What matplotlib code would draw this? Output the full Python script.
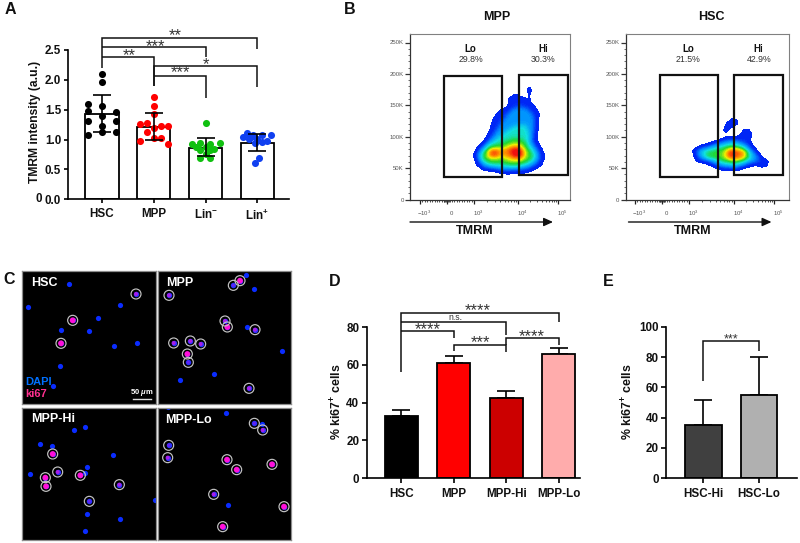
import numpy as np
import matplotlib
matplotlib.use("Agg")
import matplotlib.pyplot as plt
from matplotlib.path import Path
from matplotlib.colors import LinearSegmentedColormap, Normalize
from matplotlib.patches import Rectangle

plt.rcParams['font.family'] = ['Liberation Sans', 'DejaVu Sans']
plt.rcParams['mathtext.fontset'] = 'custom'
plt.rcParams['mathtext.rm'] = 'Liberation Sans'
plt.rcParams['mathtext.bf'] = 'Liberation Sans:bold'
plt.rcParams['mathtext.it'] = 'Liberation Sans:italic:bold'
plt.rcParams['mathtext.default'] = 'bf'

W, H = 800, 543
DPI = 100

# ---------- Panel A data ----------
a_cats = ['HSC', 'MPP', 'Lin$^{-}$', 'Lin$^{+}$']
a_means = [1.42, 1.21, 0.86, 0.95]
a_err_hi = [1.75, 1.45, 1.02, 1.10]
a_err_lo = [1.12, 0.99, 0.72, 0.81]
a_colors = ['#000000', '#ff0000', '#10c010', '#1040f0']
a_hsc = [2.10, 1.96, 1.60, 1.57, 1.48, 1.47, 1.31, 1.39, 1.31, 1.23, 1.07, 1.13, 1.12]
a_hsc_x = [0, 0, -.27, 0, -.27, .27, -.27, 0, .27, 0, -.27, 0, .27]
a_mpp = [1.71, 1.56, 1.42, 1.26, 1.28, 1.19, 1.23, 1.23, 1.12, 0.98, 1.02, 1.03, 0.93]
a_mpp_x = [0, 0, 0, -.27, -.14, 0, .14, .27, -.14, -.27, 0, .14, .27]
a_linm = [1.28, .92, .95, .95, .93, .88, .85, .87, .82, .83, .76, .69, .69]
a_linm_x = [0, -.27, -.1, .27, .09, -.18, .17, 0, -.1, .09, 0, -.1, .09]
a_linp = [1.11, 1.04, 1.08, 1.08, 1.07, 1.01, 1.01, .94, .96, .97, .69, .60, 1.04]
a_linp_x = [-.2, -.28, -.09, .09, .27, -.17, 0, -.04, .09, .19, .03, -.05, -.12]

# ---------- Panels D, E data ----------
d_cats = ['HSC', 'MPP', 'MPP-Hi', 'MPP-Lo']
d_vals = [32.7, 60.8, 42.7, 65.7]
d_err = [36.3, 64.7, 46.3, 68.9]
d_colors = ['#000000', '#ff0000', '#cc0000', '#ffacac']
e_cats = ['HSC-Hi', 'HSC-Lo']
e_vals = [35.2, 55.0]
e_err = [51.6, 80.2]
e_colors = ['#404040', '#b0b0b0']

# ---------- Panel B data (contours, reference-zoom units) ----------
mpp_pct = ['29.8%', '30.3%']
hsc_pct = ['21.5%', '42.9%']
mpp_contours = [
 (1, [(100,255),(110,235),(135,210),(150,180),(160,145),(180,120),(205,110),(205,85),(225,73),(245,80),(265,90),(285,110),(297,130),(295,170),(290,210),(305,235),(315,260),(305,285),(280,300),(250,310),(190,312),(170,305),(130,300),(110,285)]),
 (1, [(268,48),(274,60),(270,75),(271,90),(265,90),(266,75),(262,60)]),
 (2, [(110,255),(125,235),(155,205),(175,175),(195,145),(215,120),(240,110),(265,120),(280,140),(280,180),(275,215),(290,240),(300,262),(285,283),(260,295),(190,300),(170,295),(130,290)]),
 (3, [(120,255),(145,225),(175,205),(200,185),(225,170),(255,165),(265,190),(265,220),(285,245),(290,262),(270,280),(230,292),(185,290),(150,285),(125,272)]),
 (4, [(130,252),(150,232),(185,222),(225,205),(250,212),(265,240),(278,260),(255,278),(220,285),(185,278),(150,278),(132,268)]),
 (5, [(140,248),(160,235),(190,238),(230,222),(250,235),(260,255),(240,270),(210,270),(185,258),(160,265),(143,258)]),
 (6, [(147,247),(165,240),(180,247),(215,232),(240,235),(252,252),(235,265),(215,260),(190,250),(165,258),(150,255)]),
 (7, [(152,245),(168,243),(172,250),(165,257),(152,254)]),
 (7, [(212,240),(235,232),(248,250),(235,264),(220,256)]),
]
hsc_contours = [
 (1, [(38,150),(60,138),(90,130),(115,122),(140,110),(165,112),(183,105),(190,90),(205,87),(215,100),(210,125),(225,145),(245,170),(265,183),(262,198),(245,202),(225,195),(205,200),(170,212),(130,210),(110,205),(80,190),(50,185),(42,170)]),
 (1, [(131,88),(140,70),(155,56),(170,58),(174,72),(160,79),(147,85),(142,97),(133,97)]),
 (2, [(48,152),(85,140),(120,128),(150,120),(180,125),(200,135),(220,155),(240,178),(225,185),(205,190),(165,203),(125,200),(95,185),(60,175)]),
 (3, [(60,155),(90,148),(125,138),(160,130),(190,140),(210,158),(218,175),(195,185),(165,195),(125,190),(100,178),(70,170)]),
 (4, [(78,158),(100,155),(120,148),(150,138),(185,145),(207,162),(195,178),(165,188),(130,182),(105,172),(82,170)]),
 (5, [(130,160),(155,143),(185,148),(203,163),(190,175),(160,180),(135,172)]),
 (6, [(140,160),(155,150),(185,155),(195,163),(180,172),(160,175),(145,170)]),
 (7, [(145,160),(158,153),(168,163),(157,173)]),
]

# ---------- Panel C data (cell positions, reference-zoom units) ----------
c_hsc_blue = [(207,56),(84,126),(361,119),(295,159),(183,194),(268,198),(343,242),(411,233),(180,303),(160,362)]
c_hsc_ki = [(408,87,1),(218,166,2),(183,235,2)]
c_mpp_blue = [(739,29),(761,72),(741,185),(847,258),(642,328),(539,346)]
c_mpp_ki = [(507,91,1),(700,61,0),(720,47,2),(675,168,1),(682,186,2),(765,194,1),(521,234,1),(571,228,1),(602,237,1),(562,267,2),(565,292,0),(747,370,1)]
c_hi_blue = [(221,496),(255,487),(120,537),(155,544),(340,569),(89,627),(261,607),(255,623),(464,706),(262,747),(360,763),(256,797)]
c_hi_ki = [(158,567,2),(173,621,1),(136,638,2),(138,664,2),(241,631,2),(358,659,1),(268,709,0)]
c_lo_blue = [(678,443),(787,478),(683,721),(503,425)]
c_lo_ki = [(763,475,0),(788,495,1),(506,541,0),(503,578,1),(681,584,2),(710,614,2),(816,598,2),(641,688,1),(852,725,2),(668,785,2)]


def add_px_axes(l, t, r, b, **kw):
    return fig.add_axes([l / W, 1 - b / H, (r - l) / W, (b - t) / H], **kw)


fig = plt.figure(figsize=(W / DPI, H / DPI), dpi=DPI, facecolor='white')
BOLD = dict(fontweight='bold', color='#111111')


def style_bar_axes(ax, labels, centers, ylen=3.8, xlen=3.6):
    for s in ('top', 'right'):
        ax.spines[s].set_visible(False)
    for s in ('left', 'bottom'):
        ax.spines[s].set_linewidth(1.2)
    ax.tick_params(axis='y', width=1.2, length=ylen, pad=1.5, labelsize=8.4)
    ax.tick_params(axis='x', width=1.2, length=xlen, pad=3.2, labelsize=8.4)
    ax.set_xticks(centers, labels)
    ax.patch.set_alpha(0)


def bold_ticks(ax):
    for t in ax.get_xticklabels() + ax.get_yticklabels():
        t.set_fontweight('bold')
        t.set_color('#111111')


# ---------- A ----------
axA = add_px_axes(67.5, 50, 289, 199.3)
xa = np.arange(4)
axA.set_xlim(-0.665, 3.61)
axA.set_ylim(0, 2.5)
axA.bar(xa, a_means, width=0.64, facecolor='white', edgecolor='black', linewidth=1.3, zorder=1)
for i, (vals, off) in enumerate([(a_hsc, a_hsc_x), (a_mpp, a_mpp_x), (a_linm, a_linm_x), (a_linp, a_linp_x)]):
    axA.scatter(i + np.array(off), vals, s=26, color=a_colors[i], linewidths=0, zorder=2, clip_on=False)
axA.errorbar(xa, a_means, yerr=[np.array(a_means) - np.array(a_err_lo), np.array(a_err_hi) - np.array(a_means)],
             fmt='none', ecolor='black', elinewidth=1.2, capsize=6.4, capthick=1.2, zorder=3)
style_bar_axes(axA, a_cats, xa, ylen=3.1, xlen=3.2)
axA.set_yticks([0, 0.5, 1, 1.5, 2, 2.5], ['0.0', '0.5', '1.0', '1.5', '2.0', '2.5'])
bold_ticks(axA)

# ---------- D ----------
axD = add_px_axes(366.7, 327, 580, 478.3)
xd = np.arange(4)
axD.set_xlim((366.7 - 401.3) / 52.45, (580 - 401.3) / 52.45)
axD.set_ylim(0, 80)
axD.errorbar(xd, d_vals, yerr=[np.zeros(4), np.array(d_err) - np.array(d_vals)], fmt='none',
             ecolor='black', elinewidth=1.2, capsize=6.2, capthick=1.2, zorder=1)
axD.bar(xd, d_vals, width=0.63, color=d_colors, edgecolor='black', linewidth=1.3, zorder=2)
style_bar_axes(axD, d_cats, xd)
axD.set_yticks([0, 20, 40, 60, 80])
bold_ticks(axD)

# ---------- E ----------
axE = add_px_axes(666.3, 326.7, 796.7, 478.3)
xe = np.arange(2)
axE.set_xlim((666.3 - 703.3) / 55.7, (796.7 - 703.3) / 55.7)
axE.set_ylim(0, 100)
axE.errorbar(xe, e_vals, yerr=[np.zeros(2), np.array(e_err) - np.array(e_vals)], fmt='none',
             ecolor='black', elinewidth=1.2, capsize=6.4, capthick=1.2, zorder=1)
axE.bar(xe, e_vals, width=0.66, color=e_colors, edgecolor='black', linewidth=1.3, zorder=2)
style_bar_axes(axE, e_cats, xe)
axE.set_yticks([0, 20, 40, 60, 80, 100])
bold_ticks(axE)

# ---------- B ----------
cmap = LinearSegmentedColormap.from_list('flow', [
    (0.0, '#0026f5'), (1 / 6, '#0090ff'), (2 / 6, '#10e0e0'), (3 / 6, '#20d830'),
    (4 / 6, '#f0f000'), (5 / 6, '#ff8000'), (1.0, '#f01010')])


def py_to_k(py):
    return (199.5 - py) / 0.628


def gauss_blur(f, sigma_cells):
    n = int(4 * sigma_cells)
    k = np.exp(-0.5 * (np.arange(-n, n + 1) / sigma_cells) ** 2)
    k /= k.sum()
    f = np.apply_along_axis(lambda m: np.convolve(m, k, mode='same'), 0, f)
    return np.apply_along_axis(lambda m: np.convolve(m, k, mode='same'), 1, f)


def draw_flow(frame_l, frame_r, ticks, contours, origin, gates):
    ax = add_px_axes(frame_l, 34, frame_r, 200)
    ax.set_xlim(frame_l, frame_r)
    ax.set_ylim(py_to_k(200), py_to_k(34))
    ox, oy = origin
    gx = np.arange(frame_l, frame_r, 0.5)
    gy = np.arange(60, 200, 0.5)
    X, Y = np.meshgrid(gx, gy)
    pts = np.column_stack([X.ravel(), Y.ravel()])
    field = np.zeros(X.shape)
    for level, poly in contours:
        p = np.array(poly, dtype=float) / 3 + [ox, oy]
        inside = Path(p).contains_points(pts).reshape(X.shape)
        field = np.maximum(field, inside * level)
    outer = gauss_blur((field > 0).astype(float), 1.8)
    smooth = np.maximum(gauss_blur(field, 5.0), outer)
    ax.contourf(X, py_to_k(Y), smooth, levels=np.linspace(0.5, 7, 60), cmap=cmap,
                norm=Normalize(1, 6.6), extend='max', antialiased=False, zorder=1)
    for (l, r, top, bot) in gates:
        ax.add_patch(Rectangle((l, py_to_k(bot)), r - l, py_to_k(top) - py_to_k(bot), fill=False,
                               edgecolor='#111111', linewidth=1.6, zorder=3))
    for s in ('left', 'bottom'):
        ax.spines[s].set_color('#333333')
        ax.spines[s].set_linewidth(0.9)
    for s in ('top', 'right'):
        ax.spines[s].set_color('#808080')
        ax.spines[s].set_linewidth(0.8)
    ax.set_yticks([0, 50, 100, 150, 200, 250], ['0', '50K', '100K', '150K', '200K', '250K'])
    ax.set_yticks(np.arange(0, 260, 10), minor=True)
    ax.tick_params(axis='y', which='major', length=3.4, width=0.9, labelsize=4.3, labelcolor='#555555', pad=1.2, color='#333333')
    ax.tick_params(axis='y', which='minor', length=1.4, width=0.6, color='#555555')
    neg3, zero, p3, p4, p5 = ticks
    log34 = [p3 + (p4 - p3) * np.log10(m) for m in range(2, 10)]
    log45 = [p4 + (p5 - p4) * np.log10(m) for m in range(2, 10)]
    lin = list(np.linspace(neg3, zero, 12)) + list(np.linspace(zero, p3, 12))
    dense = list(np.linspace(zero - 3, zero + 3, 6))
    ax.set_xticks(ticks, [])
    ax.set_xticks(log34 + log45 + lin + dense, minor=True)
    ax.tick_params(axis='x', which='major', length=3.0, width=0.9, color='#222222')
    ax.tick_params(axis='x', which='minor', length=1.5, width=0.6, color='#333333')
    for tk, lab in zip(ticks, [r'$\mathrm{-10}^{\mathrm{3}}$', r'$\mathrm{0}$', r'$\mathrm{10}^{\mathrm{3}}$',
                               r'$\mathrm{10}^{\mathrm{4}}$', r'$\mathrm{10}^{\mathrm{5}}$']):
        ax.annotate(lab, (tk, 0), xycoords=('data', 'axes fraction'), xytext=(3.2, -9.5),
                    textcoords='offset points', ha='center', va='center', fontsize=4.3, color='#555555')
    return ax


draw_flow(410.3, 570, [420, 446.7, 474, 518, 558], mpp_contours, (440, 70),
          [(444.3, 502.3, 75.7, 176.7), (519, 568, 75, 175)])
draw_flow(625.7, 789, [635, 662, 689, 733.7, 774], hsc_contours, (680, 100),
          [(659.7, 717.7, 75.3, 176.7), (734.3, 782.7, 75, 175)])

# ---------- C ----------
CELL_S = (2 * 2.6 * 0.72) ** 2
RING_S = (2 * 5.0 * 0.72) ** 2
core_colors = ['#6a20f0', '#a81ee8', '#ff10d8']
core_sizes = [(2 * 1.5 * 0.72) ** 2, (2 * 2.0 * 0.72) ** 2, (2 * 2.9 * 0.72) ** 2]
panels = [
    (67, 467, 17, 417, c_hsc_blue, c_hsc_ki, 'HSC', 133, 55),
    (473, 874, 17, 417, c_mpp_blue, c_mpp_ki, 'MPP', 540, 55),
    (67, 467, 428, 825, c_hi_blue, c_hi_ki, 'MPP-Hi', 158, 463),
    (473, 874, 428, 825, c_lo_blue, c_lo_ki, 'MPP-Lo', 565, 466),
]
for l, r, t, b, blue, ki, name, tx, ty in panels:
    ax = add_px_axes(l / 3, 265 + t / 3, r / 3, 265 + b / 3)
    ax.set_xlim(l, r)
    ax.set_ylim(b, t)
    ax.set_facecolor('black')
    ax.set_xticks([])
    ax.set_yticks([])
    for s in ax.spines.values():
        s.set_color('#8c8c8c')
        s.set_linewidth(0.9)
    bx, by = zip(*blue)
    ax.scatter(bx, by, s=CELL_S, color='#0a2cff', linewidths=0)
    kx, ky, kk = zip(*ki)
    ax.scatter(kx, ky, s=CELL_S * 1.1, color='#2a30ff', linewidths=0)
    ax.scatter(kx, ky, s=[core_sizes[k] for k in kk], color=[core_colors[k] for k in kk], linewidths=0)
    ax.scatter(kx, ky, s=RING_S, facecolors='none', edgecolors='#c4c4c4', linewidths=0.85)
    ax.text(tx, ty, name, color='white', fontweight='bold', fontsize=9, ha='center', va='center')
    if name == 'HSC':
        ax.text(116, 352, 'DAPI', color='#0070ff', fontweight='bold', fontsize=8, ha='center', va='center')
        ax.text(109, 388, 'ki67', color='#ff3090', fontweight='bold', fontsize=8, ha='center', va='center')
        ax.text(426, 383, r'50 $\mathit{\mu}$m', color='white', fontweight='bold', fontsize=5.5, ha='center', va='center')
        ax.plot([398, 452], [401, 401], color='#dddddd', lw=1)

# ---------- overlay in picture pixels: brackets, labels, titles ----------
ov = fig.add_axes([0, 0, 1, 1], facecolor='none', zorder=10)
ov.set_xlim(0, W)
ov.set_ylim(H, 0)
ov.axis('off')


def bracket(ox, oy, x1, x2, y, d1, d2, lw=1.1):
    xs = np.array([x1, x1, x2, x2]) / 3 + ox
    ys = np.array([d1, y, y, d2]) / 3 + oy
    ov.plot(xs, ys, color='#111111', lw=lw, solid_joinstyle='miter', solid_capstyle='butt')


def stars(ox, oy, x, y, s, fs=12, dy=2.6):
    ov.text(x / 3 + ox, y / 3 + oy + dy, s, ha='center', va='center', fontsize=fs, color='#333333')


for x1, x2, y, d1, d2 in [(305, 771, 115, 205, 147), (305, 618, 142, 142, 172), (305, 461, 172, 172, 257),
                          (461, 771, 197, 257, 262), (461, 618, 227, 227, 295)]:
    bracket(0, 0, x1, x2, y, d1, d2)
for x, y, s in [(527, 98, '**'), (465, 131, '***'), (388, 160, '**'), (618, 185, '*'), (541, 210, '***')]:
    stars(0, 0, x, y, s)

for x1, x2, y, d1, d2 in [(214, 686, 143, 322, 172), (214, 529, 172, 172, 210), (214, 372, 197, 197, 220),
                          (372, 529, 240, 258, 262), (529, 686, 219, 240, 240)]:
    bracket(330, 265, x1, x2, y, d1, d2)
for x, y, s in [(444, 128, '****'), (294, 186, '****'), (450, 225, '***'), (605, 206, '****')]:
    stars(330, 265, x, y, s)
ov.text(330 + 375 / 3, 265 + 158 / 3, 'n.s.', ha='center', va='center', fontsize=6.2, color='#333333')

bracket(590, 265, 340, 507, 229, 348, 258)
stars(590, 265, 423, 216, '***', fs=9, dy=2.0)

for x, y, s in [(10, 10, 'A'), (350, 9, 'B'), (9, 280, 'C'), (335, 281, 'D'), (608, 281, 'E')]:
    ov.text(x, y, s, fontsize=11.5, ha='center', va='center', **BOLD)

ov.text(35, 122, 'TMRM intensity (a.u.)', rotation=90, fontsize=8.7, ha='center', va='center', **BOLD)
ov.text(38.5, 199.3, '0', fontsize=8.4, ha='center', va='center', **BOLD)
ov.text(337, 402, '% ki67$^{+}$ cells', rotation=90, fontsize=8.9, ha='center', va='center', **BOLD)
ov.text(628, 401.5, '% ki67$^{+}$ cells', rotation=90, fontsize=8.9, ha='center', va='center', **BOLD)

for title, cx in [('MPP', 496.7), ('HSC', 711)]:
    ov.text(cx, 17, title, fontsize=9, ha='center', va='center', **BOLD)
for x, lab, pct in [(470.7, 'Lo', mpp_pct[0]), (543, 'Hi', mpp_pct[1]), (688.3, 'Lo', hsc_pct[0]), (758.7, 'Hi', hsc_pct[1])]:
    ov.text(x, 49, lab, fontsize=7, ha='center', va='center', **BOLD)
    ov.text(x, 60, pct, fontsize=6.3, ha='center', va='center', color='#333333')
for x0, x1, tx in [(410, 553, 475), (628.5, 771.5, 692.5)]:
    ov.annotate('', xy=(x1, 222), xytext=(x0, 222),
                arrowprops=dict(arrowstyle='-|>,head_width=0.25,head_length=0.55', color='#111111', lw=1.0, shrinkA=0, shrinkB=0))
    ov.text(tx, 230.5, 'TMRM', fontsize=9, ha='center', va='center', **BOLD)

fig.savefig('out.png', dpi=DPI)
